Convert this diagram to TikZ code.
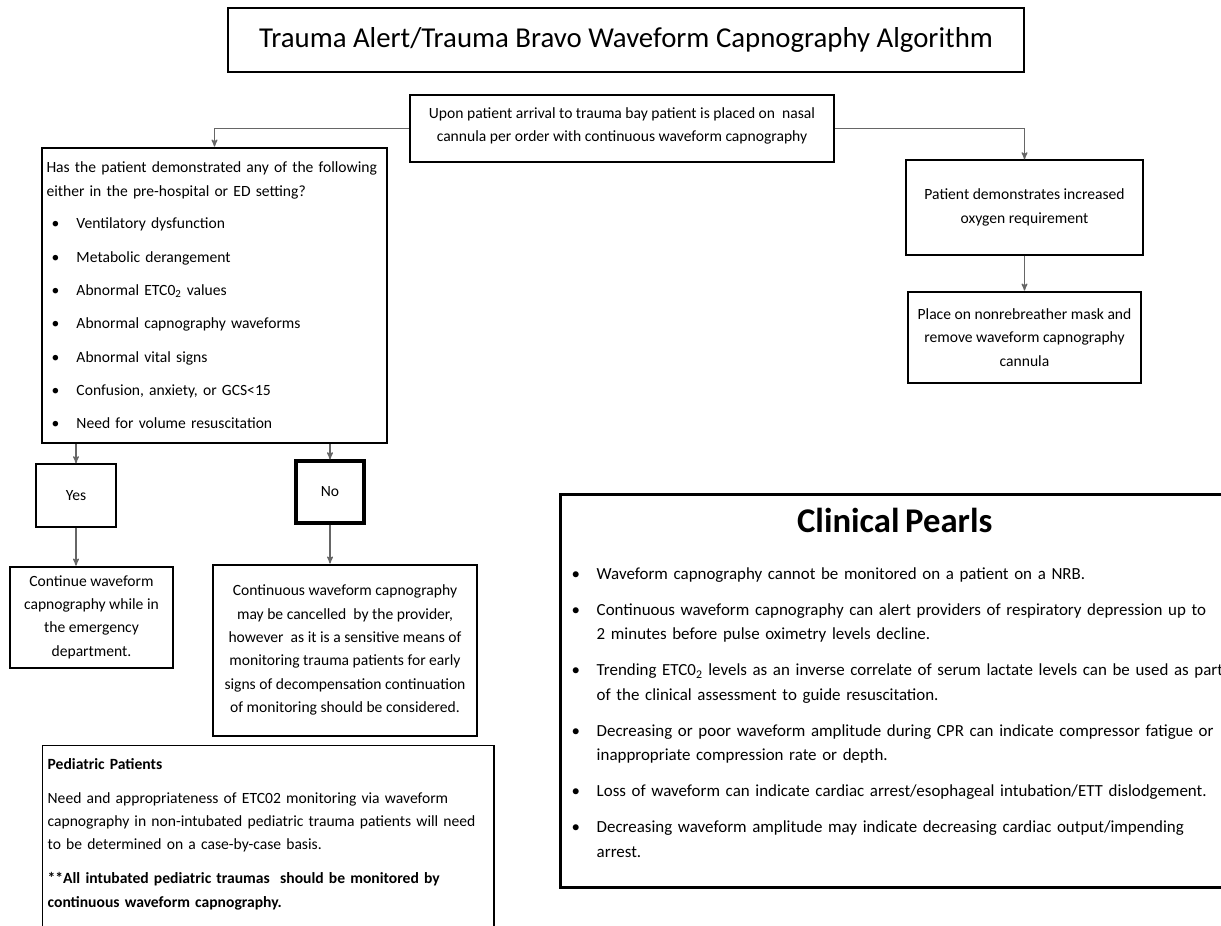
\documentclass[tikz,border=0pt]{standalone}
\usepackage{fontspec}
\setmainfont{Carlito}
\usepackage{tikz}
\usetikzlibrary{arrows}
\usetikzlibrary{positioning}
\setlength{\parindent}{0pt}
\newcommand{\bodysize}{\fontsize{11.7}{17.5}\selectfont}
\newcommand{\pearlsize}{\fontsize{12.7}{18.4}\selectfont}
\newcommand{\listentry}[1]{\hspace*{3.75pt}\makebox[18.75pt][l]{\textbullet}#1}
\newcommand{\pearl}[1]{\hangindent=18.75pt\hangafter=1\makebox[18.75pt][l]{\textbullet}#1\par\vspace{8.6pt}}
\tikzset{
    stepbox/.style={
           rectangle,
           draw=black, line width=1pt,
           inner sep=3pt,
           align=center,
           font=\bodysize,
           },
    heavybox/.style={
           stepbox,
           line width=2pt,
           },
    link/.style={->, draw=black!60, line width=0.9pt},
}

\begin{document}
\begin{tikzpicture}[>=stealth', x=0.75pt, y=-0.75pt]
 \useasboundingbox (0,0) rectangle (1221,925);

 % title
 \node[stepbox,
  line width=1.4pt,
  minimum width=597pt,
  minimum height=48pt,
  font=\fontsize{21.6}{26}\selectfont] (Title) at (626,40)
 {Trauma Alert/Trauma Bravo Waveform Capnography Algorithm};

 \node[heavybox,
  minimum width=318pt,
  minimum height=50.25pt] (Start) at (622,128.5)
 {Upon patient arrival to trauma bay patient is placed on \ nasal\\
  cannula per order with continuous waveform capnography\\[-12pt]\mbox{}};

 % left branch
 \node[heavybox,
  inner xsep=3.3pt,
  text width=252pt,
  align=left,
  minimum height=221.25pt] (Question) at (214.5,295.5)
 {Has the patient demonstrated any of the following\\
  either in the pre-hospital or ED setting?\\[7pt]
  \listentry{Ventilatory dysfunction}\\[7.5pt]
  \listentry{Metabolic derangement}\\[7.5pt]
  \listentry{Abnormal ETC0\textsubscript{2} values}\\[7.5pt]
  \listentry{Abnormal capnography waveforms}\\[7.5pt]
  \listentry{Abnormal vital signs}\\[7.5pt]
  \listentry{Confusion, anxiety, or GCS<15}\\[7.5pt]
  \listentry{Need for volume resuscitation}};

 \node[stepbox,
  minimum width=60pt,
  minimum height=47.25pt] (Yes) at (76,495.5)
 {Yes};

 \node[heavybox,
  line width=2.4pt,
  minimum width=51pt,
  minimum height=46.5pt] (No) at (330,492)
 {No};

 \node[stepbox,
  line width=1.5pt,
  below=28.5pt of Yes,
  xshift=11.6pt,
  minimum width=122.25pt,
  minimum height=75.75pt] (Continue)
 {Continue waveform\\ capnography while in\\ the emergency\\ department.};

 \node[stepbox,
  line width=1.5pt,
  below=29.25pt of No,
  xshift=11.25pt,
  minimum width=198pt,
  minimum height=128.25pt] (Cancel)
 {Continuous waveform capnography\\
  may be cancelled \ by the provider,\\
  however \ as it is a sensitive means of\\
  monitoring trauma patients for early\\
  signs of decompensation continuation\\
  of monitoring should be considered.};

 \node[stepbox,
  anchor=north west,
  inner xsep=3.75pt,
  inner ysep=9.5pt,
  text width=331pt,
  align=left] (Pediatric) at (42,745)
 {\textbf{Pediatric Patients}\\[8pt]
  Need and appropriateness of ETC02 monitoring via waveform\\
  capnography in non-intubated pediatric trauma patients will need\\
  to be determined on a case-by-case basis.\\[8pt]
  \textbf{**All intubated pediatric traumas \ should be monitored by}\\
  \textbf{continuous waveform capnography.}\\[30pt]\mbox{}};

 % right branch
 \node[stepbox,
  minimum width=177.75pt,
  minimum height=71.25pt] (Oxygen) at (1024.5,207.5)
 {Patient demonstrates increased\\ oxygen requirement};

 \node[heavybox,
  below=26.25pt of Oxygen,
  minimum width=174.75pt,
  minimum height=68.25pt] (NRB mask)
 {Place on nonrebreather mask and\\ remove waveform capnography\\ cannula};

 \node[heavybox,
  line width=2.6pt,
  anchor=north west,
  inner xsep=8.25pt,
  text width=560pt,
  align=left,
  font=\pearlsize,
  minimum height=294.75pt] (Pearls) at (559,493)
 {\makebox[484.5pt][c]{\fontsize{26}{31}\selectfont\bfseries Clinical Pearls}\par
  \vspace{16.6pt}
  \pearl{Waveform capnography cannot be monitored on a patient on a NRB.}
  \pearl{Continuous waveform capnography can alert providers of respiratory depression up to\newline
   2 minutes before pulse oximetry levels decline.}
  \pearl{Trending ETC0\textsubscript{2} levels as an inverse correlate of serum lactate levels can be used as part\newline
   of the clinical assessment to guide resuscitation.}
  \pearl{Decreasing or poor waveform amplitude during CPR can indicate compressor fatigue or\newline
   inappropriate compression rate or depth.}
  \pearl{Loss of waveform can indicate cardiac arrest/esophageal intubation/ETT dislodgement.}
  \hangindent=18.75pt\hangafter=1\makebox[18.75pt][l]{\textbullet}Decreasing waveform amplitude may indicate decreasing cardiac output/impending\newline arrest.\par
  \vspace{-5.6pt}\mbox{}};

 % draw the connectors
 \draw[link] (Start.west) -| (Question.north);
 \draw[link] (Start.east) -| (Oxygen.north);
 \draw[link] (Question.south -| Yes.north) -- (Yes.north);
 \draw[link] (Question.south -| No.north) -- (No.north);
 \draw[link] (Yes.south) -- (Yes.south |- Continue.north);
 \draw[link] (No.south) -- (No.south |- Cancel.north);
 \draw[link] (Oxygen.south) -- (NRB mask.north);

\end{tikzpicture}
\end{document}
